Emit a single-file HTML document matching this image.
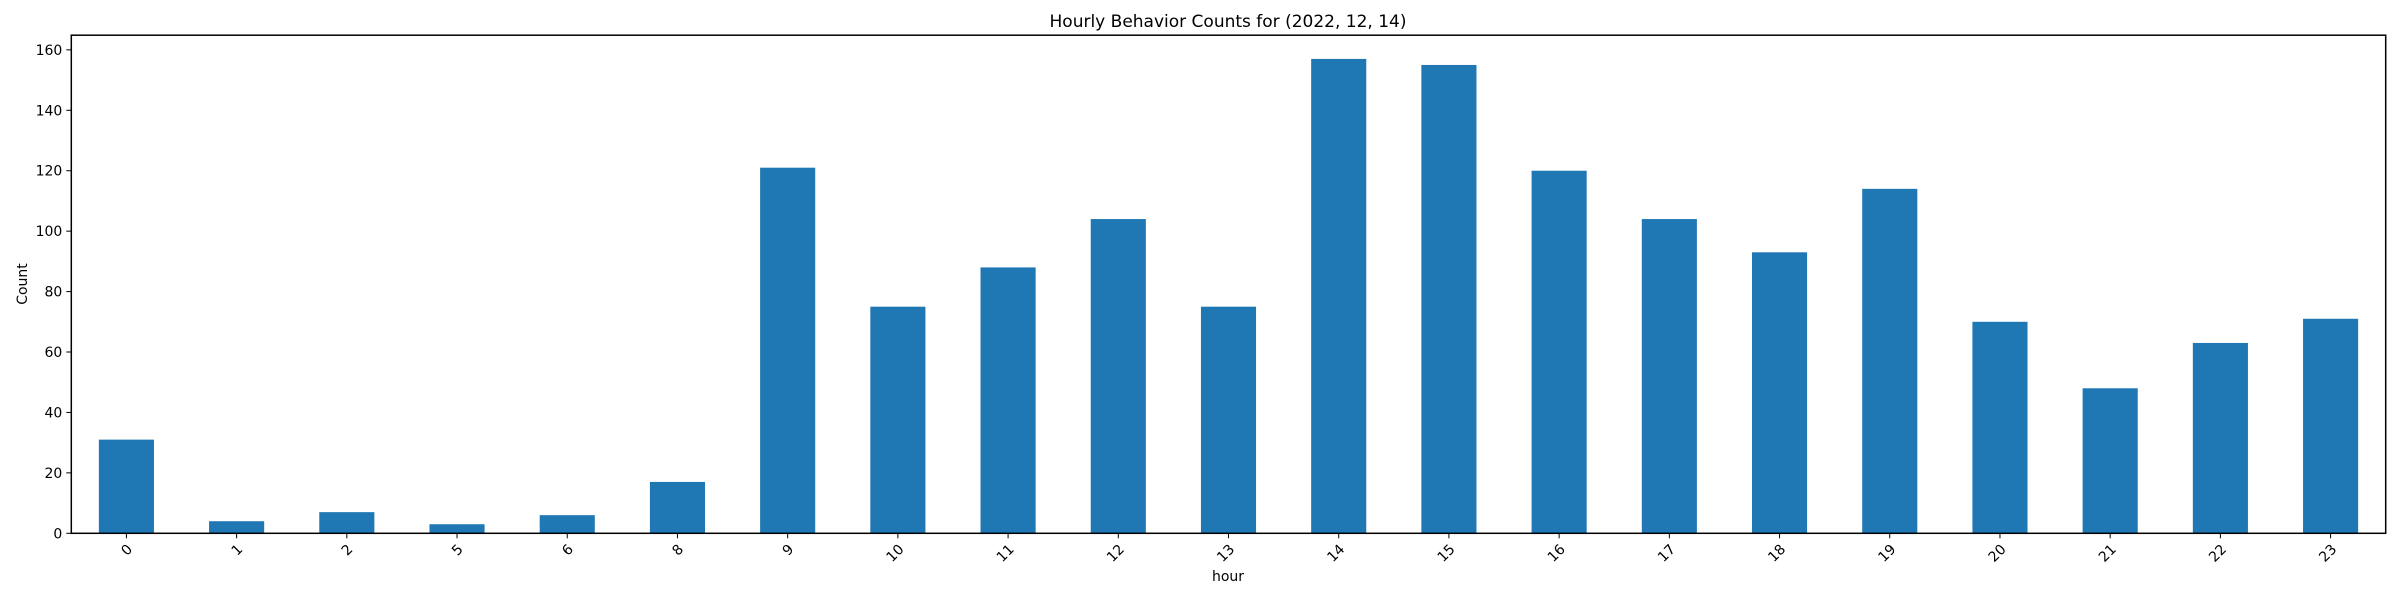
<!DOCTYPE html>
<html><head><meta charset="utf-8"><style>
html,body{margin:0;padding:0;background:#fff;}
svg{display:block;font-family:"DejaVu Sans","Liberation Sans",sans-serif;}
</style></head><body>
<svg id="chart" width="2400" height="600" viewBox="0 0 2400 600" xmlns="http://www.w3.org/2000/svg">
<text x="1228" y="27" font-size="17" text-anchor="middle" fill="#000">Hourly Behavior Counts for (2022, 12, 14)</text>
<text transform="translate(27,284) rotate(-90)" font-size="14" text-anchor="middle" fill="#000">Count</text>
<text x="1228" y="581" font-size="14" text-anchor="middle" fill="#000">hour</text>
<g id="bars"></g><g id="yticks"></g><g id="xticks"></g>
<rect x="71.3" y="35.2" width="2314.4" height="498.1" fill="none" stroke="#000" stroke-width="1.5"/>
</svg>
<script>
const categories = ["0","1","2","5","6","8","9","10","11","12","13","14","15","16","17","18","19","20","21","22","23"];
const counts = [31,4,7,3,6,17,121,75,88,104,75,157,155,120,104,93,114,70,48,63,71];
const yTickValues = [0,20,40,60,80,100,120,140,160];
const NS="http://www.w3.org/2000/svg";
const L=71.3,R=2385.7,T=35.2,B=533.3,YMAX=164.85;
const step=(R-L)/categories.length;
function xc(i){return L+step*(i+0.5);}
function y(v){return B-(v/YMAX)*(B-T);}
const bars=document.getElementById('bars'),yt=document.getElementById('yticks'),xt=document.getElementById('xticks');
counts.forEach((v,i)=>{
  const r=document.createElementNS(NS,'rect');
  r.setAttribute('x',xc(i)-step*0.25);r.setAttribute('width',step*0.5);
  r.setAttribute('y',y(v));r.setAttribute('height',B-y(v));r.setAttribute('fill','#1f77b4');
  
  
  bars.appendChild(r);
});
yTickValues.forEach(v=>{
  const l=document.createElementNS(NS,'line');
  l.setAttribute('x1',L-5);l.setAttribute('x2',L);l.setAttribute('y1',y(v));l.setAttribute('y2',y(v));l.setAttribute('stroke','#000');
  
  
  yt.appendChild(l);
  const t=document.createElementNS(NS,'text');
  t.setAttribute('x',L-9);t.setAttribute('y',y(v)+5);t.setAttribute('font-size','14');t.setAttribute('text-anchor','end');
  t.textContent=v;
  
  
  yt.appendChild(t);
});
categories.forEach((c,i)=>{
  const l=document.createElementNS(NS,'line');
  l.setAttribute('x1',xc(i));l.setAttribute('x2',xc(i));l.setAttribute('y1',B);l.setAttribute('y2',B+5);l.setAttribute('stroke','#000');
  
  
  xt.appendChild(l);
  const t=document.createElementNS(NS,'text');
  t.setAttribute('transform','translate('+(xc(i))+','+(B+10)+') rotate(-45)');
  t.setAttribute('font-size','14');t.setAttribute('text-anchor','end');t.setAttribute('dominant-baseline','hanging');
  t.textContent=c;
  
  
  xt.appendChild(t);
});
</script>
</body></html>
